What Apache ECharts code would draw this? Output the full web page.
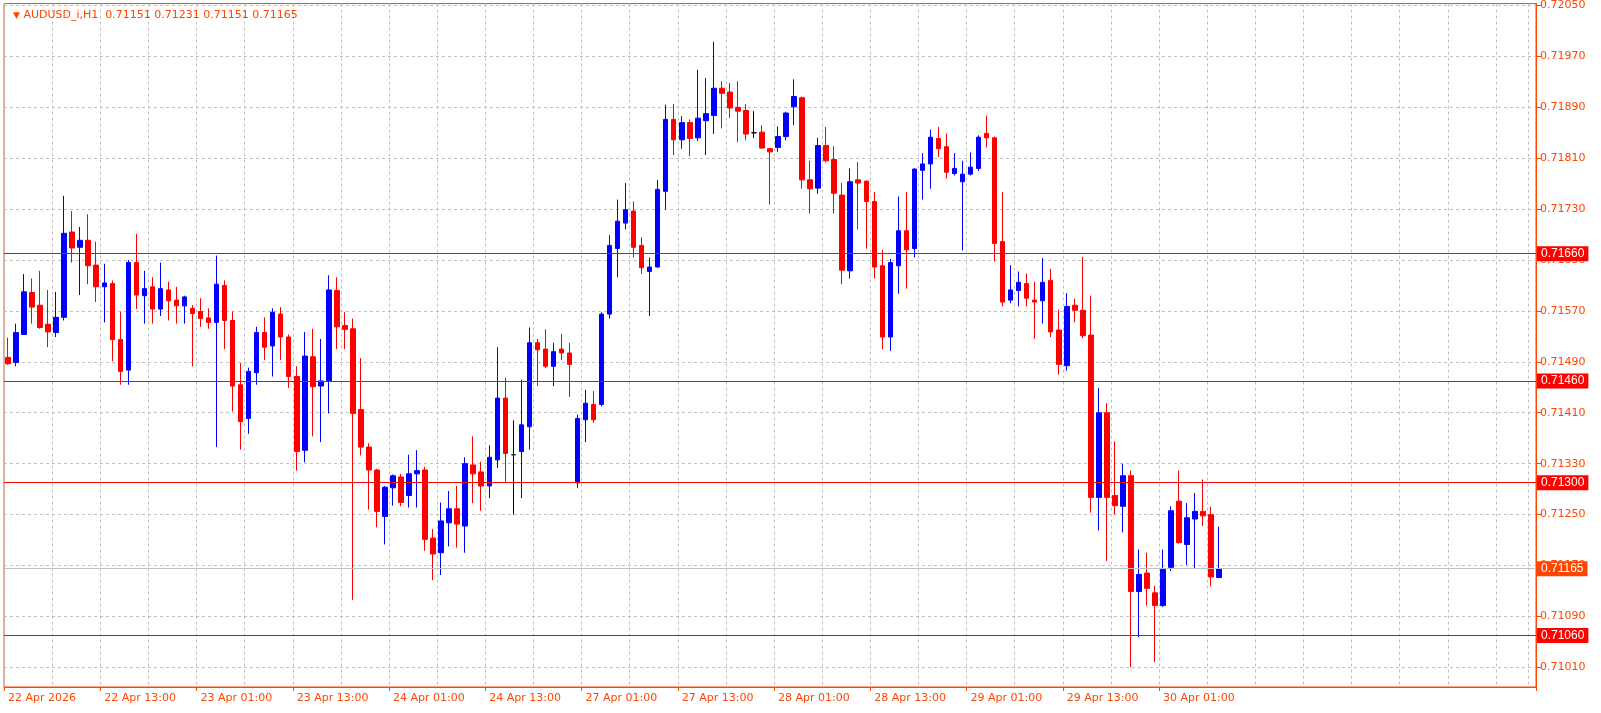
<!DOCTYPE html>
<html><head><meta charset="utf-8">
<script src="https://cdn.jsdelivr.net/npm/echarts@6/dist/echarts.min.js"></script>
<style>html,body{margin:0;padding:0;background:#fff}#c{width:1601px;height:713px}</style>
</head><body><div id="c"></div>
<script>
const opens=[.71497,.71489,.71533,.71599,.71579,.71549,.71536,.71560,.71694,.71670,.71681,.71642,.71608,.71613,.71525,.71477,.71646,.71594,.71608,.71573,.71603,.71587,.71578,.71574,.71569,.71559,.71552,.71610,.71555,.71454,.71401,.71473,.71536,.71515,.71565,.71529,.71467,.71351,.71498,.71452,.71460,.71602,.71547,.71542,.71415,.71356,.71320,.71247,.71292,.71309,.71280,.71314,.71320,.71213,.71190,.71237,.71259,.71232,.71328,.71317,.71295,.71336,.71433,.71344,.71349,.71388,.71520,.71510,.71483,.71510,.71504,.71300,.71399,.71423,.71423,.71565,.71668,.71708,.71727,.71673,.71632,.71639,.71758,.71871,.71839,.71866,.71842,.71869,.71877,.71920,.71914,.71890,.71885,.71850,.71851,.71825,.71827,.71844,.71891,.71905,.71776,.71763,.71830,.71808,.71752,.71633,.71776,.71774,.71742,.71641,.71529,.71641,.71696,.71668,.71791,.71801,.71841,.71828,.71786,.71773,.71785,.71794,.71849,.71842,.71679,.71587,.71602,.71613,.71587,.71586,.71618,.71540,.71484,.71579,.71571,.71532,.71277,.71410,.71280,.71263,.71311,.71129,.71158,.71127,.71107,.71167,.71271,.71203,.71243,.71255,.71250,.71151];
const closes=[.71487,.71536,.71600,.71576,.71544,.71537,.71560,.71692,.71669,.71681,.71641,.71608,.71614,.71525,.71475,.71646,.71595,.71605,.71573,.71605,.71586,.71578,.71592,.71566,.71558,.71552,.71612,.71555,.71452,.71396,.71475,.71536,.71513,.71568,.71529,.71467,.71349,.71499,.71451,.71460,.71603,.71545,.71541,.71409,.71356,.71320,.71255,.71293,.71311,.71269,.71314,.71319,.71211,.71188,.71240,.71259,.71235,.71330,.71314,.71295,.71340,.71433,.71346,.71344,.71391,.71520,.71509,.71483,.71506,.71504,.71486,.71401,.71425,.71399,.71565,.71673,.71711,.71729,.71670,.71638,.71639,.71761,.71871,.71839,.71866,.71841,.71873,.71880,.71920,.71912,.71889,.71884,.71848,.71850,.71826,.71820,.71844,.71881,.71907,.71776,.71762,.71830,.71806,.71755,.71634,.71773,.71771,.71742,.71639,.71529,.71646,.71696,.71666,.71793,.71801,.71843,.71825,.71788,.71794,.71785,.71796,.71843,.71842,.71676,.71584,.71603,.71615,.71590,.71584,.71615,.71537,.71486,.71577,.71571,.71531,.71277,.71410,.71277,.71264,.71311,.71129,.71156,.71134,.71107,.71164,.71256,.71206,.71245,.71255,.71248,.71152,.71165];
const lows=[.71485,.71483,.71533,.71550,.71542,.71513,.71529,.71555,.71646,.71595,.71612,.71584,.71552,.71491,.71454,.71454,.71573,.71550,.71550,.71562,.71555,.71550,.71550,.71483,.71545,.71542,.71356,.71510,.71412,.71352,.71377,.71454,.71493,.71467,.71493,.71449,.71319,.71332,.71373,.71364,.71409,.71510,.71510,.71116,.71343,.71258,.71230,.71203,.71264,.71263,.71261,.71261,.71193,.71147,.71155,.71200,.71198,.71190,.71268,.71256,.71276,.71323,.71300,.71250,.71276,.71352,.71452,.71480,.71452,.71493,.71435,.71292,.71364,.71394,.71420,.71558,.71623,.71698,.71654,.71628,.71562,.71638,.71729,.71815,.71825,.71813,.71837,.71815,.71848,.71857,.71873,.71835,.71838,.71842,.71825,.71737,.71820,.71838,.71862,.71762,.71723,.71754,.71803,.71723,.71612,.71621,.71698,.71668,.71621,.71510,.71507,.71597,.71605,.71654,.71745,.71762,.71812,.71778,.71783,.71665,.71783,.71790,.71827,.71648,.71577,.71582,.71577,.71577,.71526,.71550,.71529,.71470,.71476,.71552,.71527,.71253,.71225,.71177,.71250,.71222,.71010,.71057,.71107,.71018,.71105,.71161,.71204,.71171,.71166,.71232,.71137,.71151];
const highs=[.71528,.71550,.71628,.71621,.71633,.71603,.71600,.71751,.71727,.71702,.71722,.71679,.71644,.71618,.71569,.71650,.71691,.71633,.71623,.71646,.71616,.71608,.71594,.71579,.71590,.71574,.71657,.71618,.71569,.71488,.71481,.71545,.71560,.71574,.71576,.71533,.71483,.71537,.71542,.71526,.71626,.71623,.71568,.71558,.71496,.71362,.71322,.71295,.71313,.71314,.71344,.71351,.71325,.71227,.71269,.71287,.71295,.71340,.71373,.71333,.71359,.71513,.71465,.71398,.71462,.71544,.71526,.71541,.71520,.71534,.71520,.71407,.71446,.71444,.71568,.71689,.71745,.71771,.71742,.71686,.71654,.71776,.71894,.71895,.71876,.71871,.71949,.71936,.71993,.71931,.71928,.71931,.71895,.71884,.71862,.71826,.71860,.71883,.71934,.71907,.71806,.71842,.71859,.71829,.71771,.71794,.71804,.71775,.71757,.71666,.71652,.71750,.71757,.71794,.71818,.71855,.71859,.71849,.71818,.71806,.71819,.71846,.71877,.71844,.71757,.71642,.71632,.71629,.71616,.71653,.71636,.71572,.71598,.71589,.71655,.71594,.71449,.71425,.71365,.71330,.71319,.71195,.71190,.71138,.71195,.71263,.71319,.71268,.71284,.71305,.71262,.71231];
const tickLabels=['22 Apr 2026','22 Apr 13:00','23 Apr 01:00','23 Apr 13:00','24 Apr 01:00','24 Apr 13:00','27 Apr 01:00','27 Apr 13:00','28 Apr 01:00','28 Apr 13:00','29 Apr 01:00','29 Apr 13:00','30 Apr 01:00'];
const priceTicks=[0.71010,0.71090,0.71170,0.71250,0.71330,0.71410,0.71490,0.71570,0.71650,0.71730,0.71810,0.71890,0.71970,0.72050];
const levels=[0.71660,0.71460,0.71300,0.71060];
const lastPrice=0.71165;
const title='AUDUSD_i,H1  0.71151 0.71231 0.71151 0.71165';
const slotCount=191;

const OR='#ff4500';
const cats=[];for(let i=0;i<slotCount;i++)cats.push(String(i));
const data=opens.map((o,i)=>{
  const v=[o,closes[i],lows[i],highs[i]];
  if(o===closes[i])return {value:v,itemStyle:{color:'#000',color0:'#000',borderColor:'#000',borderColor0:'#000'}};
  return v;
});
const lab=(txt,bg)=>({show:true,position:'end',distance:1,formatter:txt,color:'#fff',backgroundColor:bg,padding:[2,4,1,4],fontSize:12,fontFamily:'Liberation Sans'});
const ml=levels.map(v=>({yAxis:v,lineStyle:{color:'#ff0000',width:1,type:'solid'},label:lab(v.toFixed(5),'#ff0000')}));
ml.push({yAxis:lastPrice,lineStyle:{color:'#c0c0c0',width:1,type:'solid'},label:lab(lastPrice.toFixed(5),OR)});

const chart=echarts.init(document.getElementById('c'));
chart.setOption({
  animation:false,backgroundColor:'#fff',
  title:{text:'{t|▼} '+title,left:8,top:5,textStyle:{color:OR,fontSize:11,fontWeight:'normal',fontFamily:'DejaVu Sans',rich:{t:{fontSize:9,color:OR}}}},
  grid:{left:4,right:65,top:3,bottom:26,show:true,borderColor:OR,borderWidth:1,backgroundColor:'#fff'},
  xAxis:{type:'category',data:cats,boundaryGap:true,
    axisLine:{lineStyle:{color:OR}},
    axisTick:{show:true,length:4,lineStyle:{color:OR},interval:(i)=>i%12===0&&i<=144},
    axisLabel:{interval:0,align:'left',margin:6,color:OR,fontSize:11,fontFamily:'DejaVu Sans',
      formatter:(v,i)=>{i=+v;return (i%12===0&&i/12<tickLabels.length)?tickLabels[i/12]:'';}},
    splitLine:{show:true,interval:5,lineStyle:{color:'#c0c0c0',type:[3,3]}}},
  yAxis:{type:'value',position:'right',min:0.70979,max:0.72053,scale:true,
    axisLine:{show:true,lineStyle:{color:OR}},
    axisTick:{show:true,length:5,lineStyle:{color:OR},customValues:priceTicks},
    axisLabel:{color:OR,fontSize:11,fontFamily:'DejaVu Sans',margin:4,customValues:priceTicks,formatter:v=>v.toFixed(5)},
    splitLine:{show:true,lineStyle:{color:'#c0c0c0',type:[3,3]}}},
  series:[
    {type:'candlestick',data:data,barWidth:5,
     itemStyle:{color:'#0000ff',color0:'#ff0000',borderColor:'#0000ff',borderColor0:'#ff0000',borderWidth:1}},
    {type:'line',data:cats.map(()=>null),symbol:'none',silent:true,
     markLine:{symbol:'none',silent:true,animation:false,precision:5,data:ml}}
  ]
});
</script></body></html>
